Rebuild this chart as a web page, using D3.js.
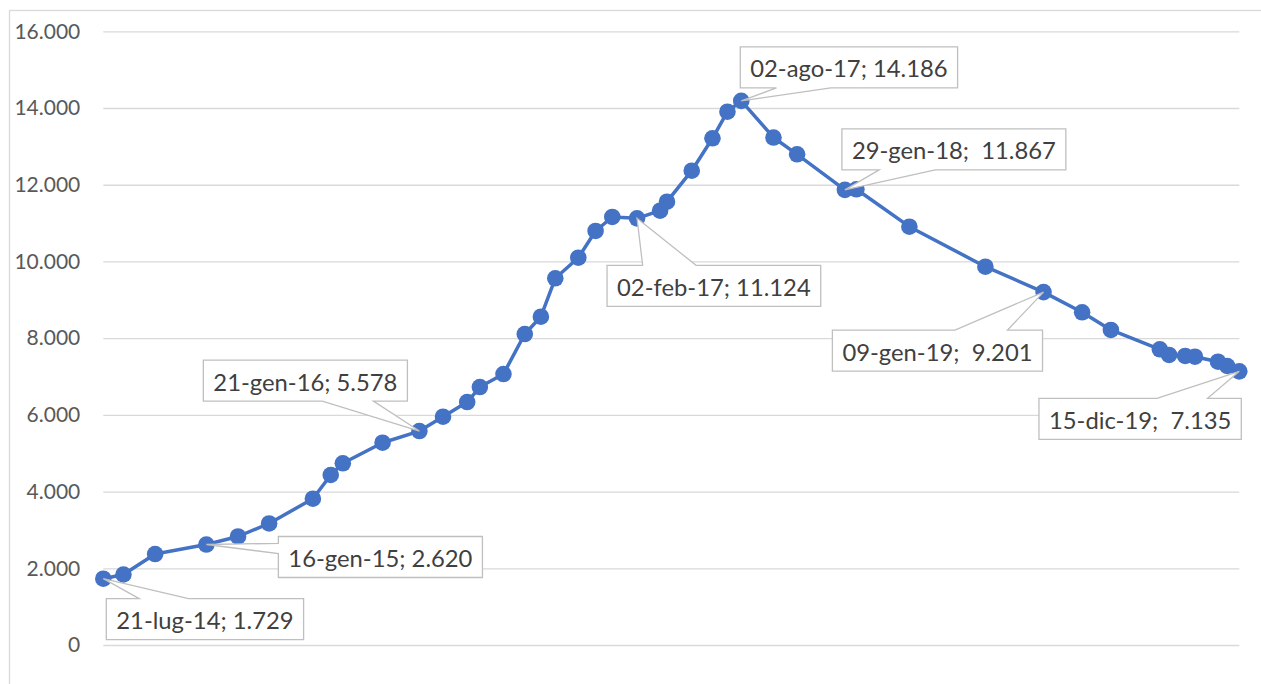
<!DOCTYPE html>
<html>
<head>
<meta charset="utf-8">
<script src="https://cdn.jsdelivr.net/npm/d3@7"></script>
<style>
  html, body { margin: 0; padding: 0; background: #fff; }
  svg { display: block; font-family: Lato, "Open Sans", sans-serif; }
</style>
</head>
<body>
<div id="chart"></div>
<script>
/* serie storica: date e valori */
var dates = [
  '2014-07-21', '2014-08-25', '2014-10-19', '2015-01-16', '2015-03-12', '2015-05-05',
  '2015-07-20', '2015-08-20', '2015-09-10', '2015-11-18', '2016-01-21', '2016-03-02',
  '2016-04-13', '2016-05-05', '2016-06-15', '2016-07-22', '2016-08-19', '2016-09-13',
  '2016-10-23', '2016-11-22', '2016-12-21', '2017-02-02', '2017-03-14', '2017-03-26',
  '2017-05-08', '2017-06-13', '2017-07-09', '2017-08-02', '2017-09-27', '2017-11-07',
  '2018-01-29', '2018-02-18', '2018-05-21', '2018-09-30', '2019-01-09', '2019-03-17',
  '2019-05-06', '2019-07-30', '2019-08-15', '2019-09-12', '2019-09-29', '2019-11-08',
  '2019-11-24', '2019-12-15'
];
var values = [
  1729, 1838, 2372, 2620, 2829, 3168,
  3814, 4432, 4737, 5274, 5578, 5952,
  6335, 6726, 7065, 8108, 8559, 9560,
  10098, 10794, 11159, 11124, 11323, 11558,
  12366, 13210, 13904, 14186, 13231, 12793,
  11867, 11881, 10906, 9863, 9201, 8674,
  8213, 7709, 7561, 7535, 7517, 7386,
  7274, 7135
];

// punti con etichetta (callout)
var labelDates = ['2014-07-21', '2015-01-16', '2016-01-21', '2017-02-02', '2017-08-02', '2018-01-29', '2019-01-09', '2019-12-15'];
var labelSeps = [' ', ' ', ' ', ' ', ' ', '  ', '  ', '  '];

var yTicks = [0, 2000, 4000, 6000, 8000, 10000, 12000, 14000, 16000];

// posizione dei riquadri rispetto al punto (align: lato del riquadro agganciato a dx)
var calloutLayout = [
  { dx: 3,   dy: 20,  align: 'left',  side: 'top',    part: 'start' },
  { dx: 72,  dy: -8,  align: 'left',  side: 'left',   part: 'start' },
  { dx: -12, dy: -71, align: 'right', side: 'bottom', part: 'end' },
  { dx: -30, dy: 47,  align: 'left',  side: 'top',    part: 'start' },
  { dx: -1,  dy: -54, align: 'left',  side: 'bottom', part: 'start' },
  { dx: -3,  dy: -61, align: 'left',  side: 'bottom', part: 'start' },
  { dx: -1,  dy: 38,  align: 'right', side: 'top',    part: 'end' },
  { dx: 2,   dy: 27,  align: 'right', side: 'top',    part: 'end' }
];

(function () {
  'use strict';

  var W = 1261, H = 684;
  var parse = d3.timeParse('%Y-%m-%d');

  var it = d3.timeFormatLocale({
    dateTime: '%A %e %B %Y, %X', date: '%d/%m/%Y', time: '%H:%M:%S',
    periods: ['AM', 'PM'],
    days: ['domenica', 'lunedì', 'martedì', 'mercoledì', 'giovedì', 'venerdì', 'sabato'],
    shortDays: ['dom', 'lun', 'mar', 'mer', 'gio', 'ven', 'sab'],
    months: ['gennaio', 'febbraio', 'marzo', 'aprile', 'maggio', 'giugno', 'luglio', 'agosto', 'settembre', 'ottobre', 'novembre', 'dicembre'],
    shortMonths: ['gen', 'feb', 'mar', 'apr', 'mag', 'giu', 'lug', 'ago', 'set', 'ott', 'nov', 'dic']
  });
  var fmtDate = it.format('%d-%b-%y');
  var fmtNum = d3.formatLocale({ decimal: ',', thousands: '.', grouping: [3], currency: ['€', ''] }).format(',');

  var data = dates.map(function (d, i) { return { date: parse(d), value: values[i], key: d }; });

  var svg = d3.select('#chart').append('svg')
    .attr('width', W).attr('height', H);

  svg.append('rect').attr('width', W).attr('height', H).attr('fill', '#fff');

  // cornice del grafico (tagliata a destra e in basso)
  svg.append('rect')
    .attr('x', 9.5).attr('y', 10.5)
    .attr('width', 1400).attr('height', 800)
    .attr('fill', 'none')
    .attr('stroke', '#d9d9d9')
    .attr('stroke-width', 1.3);

  var x = d3.scaleTime()
    .domain(d3.extent(data, function (d) { return d.date; }))
    .range([103.3, 1239.3]);
  var y = d3.scaleLinear().domain([0, 16000]).range([645, 31.3]);

  // griglia + etichette asse Y
  var yAxis = svg.append('g')
    .attr('transform', 'translate(103.3,0)')
    .call(d3.axisLeft(y).tickValues(yTicks).tickFormat(fmtNum)
      .tickSize(-(1239.3 - 103.3)).tickPadding(23));
  yAxis.select('.domain').remove();
  yAxis.selectAll('.tick line').attr('stroke', '#d9d9d9').attr('stroke-width', 1.3);
  yAxis.selectAll('.tick text')
    .attr('fill', '#595959')
    .attr('font-size', 21)
    .attr('font-family', 'Lato, "Open Sans", sans-serif');

  // linea
  var line = d3.line()
    .x(function (d) { return x(d.date); })
    .y(function (d) { return y(d.value); });

  svg.append('path')
    .datum(data)
    .attr('d', line)
    .attr('fill', 'none')
    .attr('stroke', '#4472c4')
    .attr('stroke-width', 3.5)
    .attr('stroke-linejoin', 'round');

  svg.append('g').selectAll('circle')
    .data(data)
    .join('circle')
    .attr('cx', function (d) { return x(d.date); })
    .attr('cy', function (d) { return y(d.value); })
    .attr('r', 8.3)
    .attr('fill', '#4472c4');

  // callout
  var boxH = 41, pad = 10;
  var callouts = svg.append('g');
  labelDates.forEach(function (ld, i) {
    var d = data.find(function (p) { return p.key === ld; });
    var lay = calloutLayout[i];
    var px = x(d.date), py = y(d.value);
    var g = callouts.append('g');
    var path = g.append('path');
    var txt = g.append('text')
      .attr('xml:space', 'preserve')
      .style('white-space', 'pre')
      .attr('font-size', 23.8)
      .attr('fill', '#404040')
      .attr('dominant-baseline', 'central')
      .text(fmtDate(d.date) + ';' + labelSeps[i] + fmtNum(d.value));
    var tw = txt.node().getComputedTextLength();
    var w = tw + 2 * pad;
    var x0 = lay.align === 'left' ? px + lay.dx : px + lay.dx - w;
    var y0 = py + lay.dy;
    txt.attr('x', x0 + pad).attr('y', y0 + boxH / 2 + 1);

    var fr = lay.part === 'start' ? [1 / 6, 5 / 12] : [7 / 12, 5 / 6];
    var p = d3.path();
    if (lay.side === 'top') {
      p.moveTo(x0, y0);
      p.lineTo(x0 + fr[0] * w, y0);
      p.lineTo(px, py);
      p.lineTo(x0 + fr[1] * w, y0);
      p.lineTo(x0 + w, y0);
      p.lineTo(x0 + w, y0 + boxH);
      p.lineTo(x0, y0 + boxH);
    } else if (lay.side === 'bottom') {
      p.moveTo(x0, y0);
      p.lineTo(x0 + w, y0);
      p.lineTo(x0 + w, y0 + boxH);
      p.lineTo(x0 + fr[1] * w, y0 + boxH);
      p.lineTo(px, py);
      p.lineTo(x0 + fr[0] * w, y0 + boxH);
      p.lineTo(x0, y0 + boxH);
    } else {
      p.moveTo(x0, y0);
      p.lineTo(x0 + w, y0);
      p.lineTo(x0 + w, y0 + boxH);
      p.lineTo(x0, y0 + boxH);
      p.lineTo(x0, y0 + fr[1] * boxH);
      p.lineTo(px, py);
      p.lineTo(x0, y0 + fr[0] * boxH);
    }
    p.closePath();
    path.attr('d', p.toString())
      .attr('fill', '#fff')
      .attr('stroke', '#bfbfbf')
      .attr('stroke-width', 1.3)
      .attr('stroke-linejoin', 'miter');
  });
})();
</script>
</body>
</html>
